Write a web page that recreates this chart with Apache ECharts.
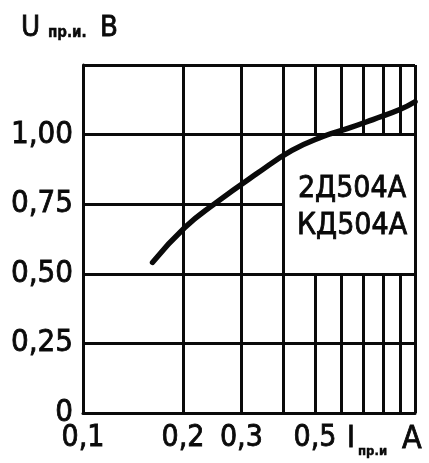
<!DOCTYPE html>
<html><head><meta charset="utf-8">
<script src="https://cdn.jsdelivr.net/npm/echarts@6/dist/echarts.min.js"></script>
<style>html,body{margin:0;padding:0;background:#fff}#c{width:429px;height:463px}</style>
</head><body><div id="c"></div>
<script>
// ---- data ----
const currentA = [0.162, 0.203, 0.25, 0.334, 0.426, 0.528, 0.628, 0.747, 0.9, 1.0];
const voltageV = [0.541, 0.667, 0.753, 0.86, 0.943, 0.993, 1.022, 1.054, 1.09, 1.118];
const xTickValues = [0.1, 0.2, 0.3, 0.5];
const xTickLabels = ['0,1', '0,2', '0,3', '0,5'];
const yTickValues = [0, 0.25, 0.5, 0.75, 1.0];
const yTickLabels = ['0', '0,25', '0,50', '0,75', '1,00'];
const xGridFull = [0.2, 0.3, 0.4, 1.0];
const xGridSplit = [0.5, 0.6, 0.7, 0.8, 0.9];
const yGridFull = [0.25, 0.5, 1.0, 1.25];
const yGridPartial = [0.75];
const deviceNames = ['2Д504А', 'КД504А'];

const FONT = "'DejaVu Sans Condensed', 'DejaVu Sans', sans-serif";
const INK = '#0a0a0a';

function lookup(vals, labels, v) {
  for (let i = 0; i < vals.length; i++) if (Math.abs(vals[i] - v) < 1e-6) return labels[i];
  return '';
}

const segs = [];
xGridFull.forEach(x => segs.push([{ coord: [x, 0] }, { coord: [x, 1.25] }]));
xGridSplit.forEach(x => {
  segs.push([{ coord: [x, 0] }, { coord: [x, 0.5] }]);
  segs.push([{ coord: [x, 1.0] }, { coord: [x, 1.25] }]);
});
yGridFull.forEach(y => segs.push([{ coord: [0.1, y] }, { coord: [1, y] }]));
yGridPartial.forEach(y => segs.push([{ coord: [0.1, y] }, { coord: [0.4, y] }]));

function txt(text, x, y, size, extra) {
  return {
    type: 'text',
    style: Object.assign({
      text: text, x: x, y: y, font: size + 'px ' + FONT, fill: INK,
      stroke: INK, lineWidth: 0.8, verticalAlign: 'middle'
    }, extra || {})
  };
}

const chart = echarts.init(document.getElementById('c'), null, { renderer: 'canvas' });
chart.setOption({
  animation: false,
  backgroundColor: '#fff',
  grid: { left: 83, right: 14, top: 65, bottom: 50, containLabel: false },
  xAxis: {
    type: 'log', logBase: 10, min: 0.1, max: 1,
    axisLine: { show: true, onZero: false, lineStyle: { color: INK, width: 3 } },
    axisTick: { show: false },
    splitLine: { show: false },
    axisLabel: {
      customValues: xTickValues,
      formatter: v => lookup(xTickValues, xTickLabels, v),
      color: INK, fontSize: 30, fontFamily: FONT, margin: 10,
      textBorderColor: INK, textBorderWidth: 0.8
    }
  },
  yAxis: {
    type: 'value', min: 0, max: 1.25, interval: 0.25,
    axisLine: { show: true, lineStyle: { color: INK, width: 3 } },
    axisTick: { show: false },
    splitLine: { show: false },
    axisLabel: {
      formatter: v => lookup(yTickValues, yTickLabels, v),
      color: INK, fontSize: 31, fontFamily: FONT, margin: 10,
      textBorderColor: INK, textBorderWidth: 0.8
    }
  },
  series: [
    {
      type: 'line', data: [], z: 1, silent: true,
      markLine: {
        silent: true, symbol: ['none', 'none'], animation: false,
        label: { show: false },
        lineStyle: { color: INK, width: 3, type: 'solid' },
        emphasis: { disabled: true },
        data: segs
      }
    },
    {
      type: 'line', z: 5, smooth: 0.5, symbol: 'none', silent: true,
      data: currentA.map((x, i) => [x, voltageV[i]]),
      lineStyle: { color: INK, width: 5.5, cap: 'round' }
    }
  ],
  graphic: [
    txt('U', 21, 28, 29),
    txt('пр.и.', 48, 33, 15, { font: 'bold 15px ' + FONT, lineWidth: 0.4 }),
    txt('В', 100, 28, 29, { font: '29px ' + FONT }),
    txt('I', 347, 439, 30),
    txt('пр.и', 358, 452, 13, { font: 'bold 13px ' + FONT, lineWidth: 0.4 }),
    txt('А', 402, 440, 32),
    txt(deviceNames[0], 352, 189, 30, { align: 'center' }),
    txt(deviceNames[1], 352, 226, 30, { align: 'center' })
  ]
});
</script>
</body></html>
